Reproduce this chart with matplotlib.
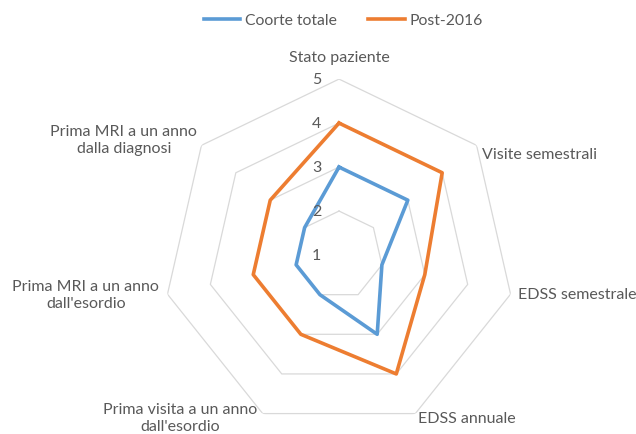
import numpy as np
import matplotlib.pyplot as plt

categories = ["Stato paziente", "Visite semestrali", "EDSS semestrale", "EDSS annuale",
              "Prima visita a un anno\ndall'esordio", "Prima MRI a un anno\ndall'esordio",
              "Prima MRI a un anno\ndalla diagnosi"]
coorte_totale = [3, 3, 2, 3, 2, 2, 2]
post_2016 = [4, 4, 3, 4, 3, 3, 3]
levels = [1, 2, 3, 4, 5]

blue = "#5B9BD5"
orange = "#ED7D31"
grey = "#595959"
plt.rcParams['font.family'] = ['Lato', 'DejaVu Sans']

n = len(categories)
theta = np.linspace(0, 2 * np.pi, n, endpoint=False)
theta_c = np.append(theta, theta[0])

fig = plt.figure(figsize=(6.36, 4.35), dpi=100)
ax = fig.add_axes([0.2563, 0.0069, 0.5535, 0.809], projection="polar")
ax.set_theta_offset(np.pi / 2)
ax.set_theta_direction(-1)
ax.set_ylim(1, 5)
ax.grid(False)
ax.spines["polar"].set_visible(False)
ax.set_xticks([])
ax.set_yticks([])
ax.patch.set_alpha(0)

# polygon gridlines
for lvl in levels[1:]:
    ax.plot(theta_c, [lvl] * (n + 1), color="#d9d9d9", lw=0.9, zorder=1)

ax.plot(theta_c, coorte_totale + coorte_totale[:1], color=blue, lw=2.6,
        label="Coorte totale", zorder=3)
ax.plot(theta_c, post_2016 + post_2016[:1], color=orange, lw=2.6,
        label="Post-2016", zorder=3)

# value labels on the top axis
for lvl in levels:
    ax.annotate(str(lvl), xy=(0, lvl), xytext=(-16, 0), textcoords="offset points",
                ha="center", va="center", fontsize=11.5, color=grey)

# category labels (offsets in points from the outer vertex)
placement = [("center", (0, 16)), ("left", (4, -6)), ("left", (5, 0)),
             ("left", (2, -3)), ("right", (-4, -3)), ("right", (-6, 0)),
             ("right", (-3, 4))]
for t, lab, (ha, off) in zip(theta, categories, placement):
    ax.annotate(lab, xy=(t, 5), xytext=off, textcoords="offset points",
                ha=ha, va="center", multialignment="center",
                fontsize=11.5, color=grey, linespacing=1.25)

fig.legend(loc="upper center", bbox_to_anchor=(0.54, 1.0), ncol=2, frameon=False,
           fontsize=11.3, labelcolor=grey, handlelength=2.3, columnspacing=2.0,
           handletextpad=0.3)

plt.savefig("out.png", dpi=100)
plt.close()
